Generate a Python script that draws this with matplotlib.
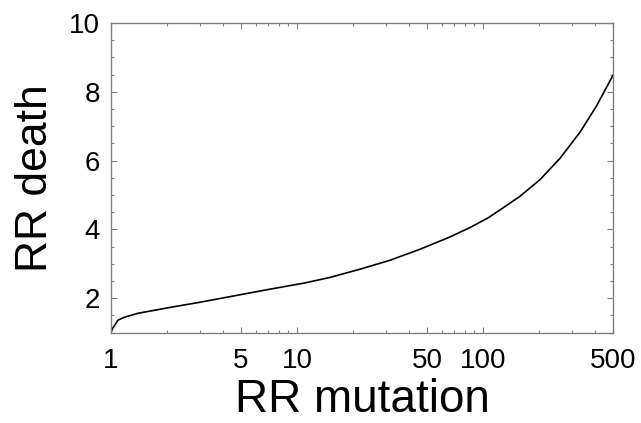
import matplotlib
matplotlib.use("Agg")
import matplotlib.pyplot as plt
from matplotlib.ticker import FixedLocator, NullFormatter, MultipleLocator

plt.rcParams['font.family'] = ['Liberation Sans', 'DejaVu Sans']

# values
rr_mutation = [1, 1.02, 1.05, 1.09, 1.19, 1.4, 2.13, 3.01, 4.64, 7.16, 11.0, 15, 21.8, 31.6,
               45.8, 66.5, 85, 107, 123, 158, 203, 259, 332, 408, 500]
rr_death = [1, 1.12, 1.22, 1.36, 1.45, 1.56, 1.74, 1.88, 2.07, 2.26, 2.44, 2.60, 2.84, 3.10,
            3.42, 3.78, 4.05, 4.34, 4.56, 4.96, 5.45, 6.06, 6.82, 7.59, 8.48]

x_major = [1, 5, 10, 50, 100, 500]
x_minor = [2, 3, 4, 6, 7, 8, 9, 20, 30, 40, 60, 70, 80, 90, 200, 300, 400]
y_major = [2, 4, 6, 8, 10]

fig = plt.figure(figsize=(6.41, 4.23), dpi=100)
ax = fig.add_axes([111 / 641, 1 - 332.5 / 423, 502 / 641, 309.5 / 423])

ax.plot(rr_mutation, rr_death, color='black', lw=1.2)

ax.set_xscale('log')
ax.set_xlim(1, 500)
ax.set_ylim(1, 10)

ax.xaxis.set_major_locator(FixedLocator(x_major))
ax.xaxis.set_minor_locator(FixedLocator(x_minor))
ax.xaxis.set_minor_formatter(NullFormatter())
ax.set_xticklabels([str(v) for v in x_major])
ax.yaxis.set_major_locator(FixedLocator(y_major))
ax.yaxis.set_minor_locator(MultipleLocator(0.5))

for s in ax.spines.values():
    s.set_color('#808080')
    s.set_linewidth(1.0)

ax.tick_params(which='both', direction='in', top=True, right=True, color='#808080', width=0.8)
ax.tick_params(which='major', length=4, labelsize=20)
ax.tick_params(axis='x', which='major', pad=11)
ax.tick_params(axis='y', which='major', pad=8)
ax.tick_params(which='minor', length=2)

ax.set_xlabel('RR mutation', fontsize=33, labelpad=3)
ax.set_ylabel('RR death', fontsize=32, labelpad=9)

fig.savefig('out.png', dpi=100)
